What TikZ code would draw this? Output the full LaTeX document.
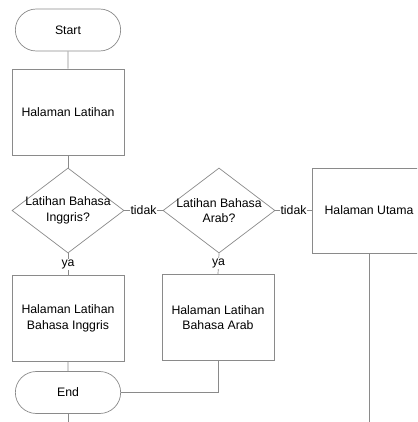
\documentclass[tikz,border=0pt]{standalone}
\usepackage{fontspec}
\setmainfont{Liberation Sans}
\usepackage{tikz}
\usetikzlibrary{shapes.geometric,shapes.misc}

\definecolor{linegray}{HTML}{8A8A8A}
\newcommand{\flowfont}{\fontsize{12.3}{15.5}\selectfont}

\begin{document}
\begin{tikzpicture}
            [
                x=1pt, y=-1pt,
                every node/.style={font=\flowfont, align=center},
                terminal/.style={rounded rectangle, draw=linegray, line width=0.7pt,
                    minimum width=112pt, minimum height=42pt},
                process/.style={rectangle, draw=linegray, line width=0.7pt,
                    minimum width=112pt, minimum height=86pt},
                decision/.style={diamond, draw=linegray, line width=0.7pt,
                    minimum width=112pt, minimum height=85pt, inner sep=0pt},
                answer/.style={fill=white, inner sep=1pt},
                flow/.style={draw=linegray, line width=0.7pt}
            ]
            \clip (0,0) rectangle (417,422);

            % main column
            \node[terminal] (start) at (68,30) {Start};
            \node[process] (latihan) at (68,112) {Halaman Latihan};
            \node[decision, label={[align=center]center:Latihan Bahasa\\Inggris?}]
                (inggris) at (68,210.5) {};
            \node[process] (latinggris) at (68,318.5) {
                Halaman Latihan \\
                Bahasa Inggris
            };
            \node[terminal] (end) at (68,392.5) {End};

            % second question
            \node[decision, label={[align=center]center:Latihan Bahasa\\Arab?}]
                (arab) at (219,210.5) {};
            \node[process] (latarab) at (218,317.5) {
                Halaman Latihan \\
                Bahasa Arab
            };

            % home page, partly outside the picture
            \node[process, minimum width=114pt, minimum height=85pt]
                (utama) at (369,210.5) {Halaman Utama};

            \coordinate (endout) at (68,422);
            \coordinate (utamaout) at (369,422);

            % connectors
            \draw[flow] (start) -- (latihan);
            \draw[flow] (latihan) -- (inggris);
            \draw[flow] (inggris.south) -- node[answer] {ya} (latinggris.north);
            \draw[flow] (inggris.east) -- node[answer] {tidak} (arab.west);
            \draw[flow] (arab.south) -- node[answer] {ya} (latarab.north);
            \draw[flow] (arab.east) -- node[answer] {tidak} (utama.west);
            \draw[flow] (latinggris) -- (end);
            \draw[flow] (latarab.south) |- (end.east);
            \draw[flow] (end.south) -- (endout);
            \draw[flow] (utama.south) -- (utamaout);
\end{tikzpicture}
\end{document}
